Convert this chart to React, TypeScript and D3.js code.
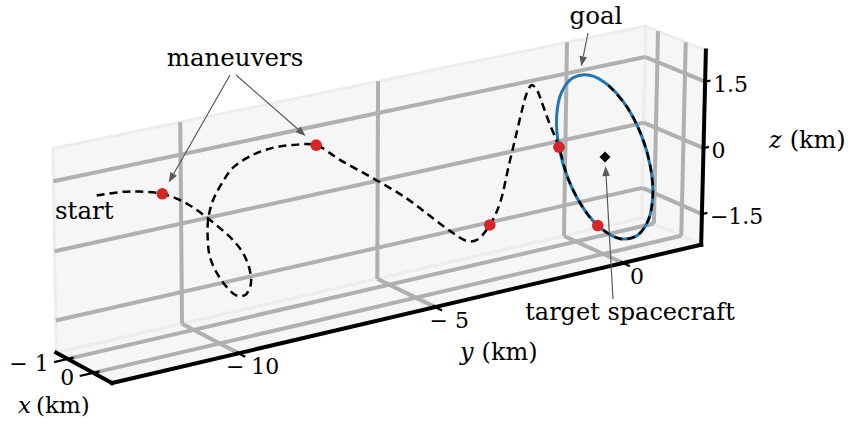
import React from 'react';
import * as d3 from 'd3';

const W = 852;
const H = 424;

// Axis limits (km)
const xLimits = [-1.45, 0.72];
const yLimits = [-13.1, 2.15];
const zLimits = [-2.2, 2.2];

// Ticks
const xTicks = [-1, 0];
const yTicks = [-10, -5, 0];
const zTicks = [-1.5, 0, 1.5];
const xTickLabels = ['− 1', '0'];
const yTickLabels = ['− 10', '− 5', '0'];
const zTickLabels = ['−1.5', '0', '1.5'];

// Chaser transfer trajectory (km)
const transferX = [
  0, 0, 0, 0, 0, 0, 0, 0, 0, 0,
  0, 0, 0, 0, 0, 0, 0, 0, 0, 0,
  0, 0, 0, 0, 0, 0, 0, 0, 0, 0,
  0, 0, 0, 0, 0, 0, 0, 0, 0, 0,
  0, 0, 0, 0, 0.23, 0.424, 0.535, 0.6, 0.554, 0.424,
  0.23, 0, -0.23, -0.424, -0.554,
];
const transferY = [
  -12.96, -12.33, -11.92, -11.38, -10.88, -10.55, -10.3, -9.98, -9.66, -9.41,
  -9.24, -9.22, -9.36, -9.57, -9.82, -10.06, -10.23, -10.28, -10.26, -10.14,
  -9.92, -9.65, -9.15, -8.66, -8.16, -7.57, -6.97, -6.12, -5.26, -4.56,
  -4.03, -3.68, -3.41, -3.07, -2.81, -2.58, -2.4, -2.25, -2.13, -2.0,
  -1.86, -1.75, -1.55, -1.25, -1.155, -0.884, -0.567, 0, 0.478, 0.884,
  1.155, 1.25, 1.155, 0.884, 0.478,
];
const transferZ = [
  1.57, 1.53, 1.46, 1.31, 1.05, 0.81, 0.6, 0.31, -0.01, -0.34,
  -0.75, -1.08, -1.27, -1.24, -1.0, -0.65, -0.26, 0.18, 0.57, 0.94,
  1.26, 1.54, 1.73, 1.79, 1.76, 1.65, 1.22, 0.66, 0.06, -0.52,
  -0.95, -1.19, -1.22, -0.95, -0.52, 0.3, 0.93, 1.46, 1.81, 1.97,
  1.83, 1.59, 1.11, 0.45, -0.227, -0.87, -1.293, -1.681, -1.725, -1.507,
  -1.059, -0.45, 0.227, 0.87, 1.381,
];

// Goal relative orbit around the target (km)
const goalX = [0.6, 0.554, 0.424, 0.23, 0, -0.23, -0.424, -0.554, -0.6, -0.554, -0.424, -0.23, 0, 0.23, 0.424, 0.554];
const goalY = [0, 0.478, 0.884, 1.155, 1.25, 1.155, 0.884, 0.478, 0, -0.478, -0.884, -1.155, -1.25, -1.155, -0.884, -0.478];
const goalZ = [-1.681, -1.725, -1.507, -1.059, -0.45, 0.227, 0.87, 1.381, 1.681, 1.725, 1.507, 1.059, 0.45, -0.227, -0.87, -1.381];

// Impulsive maneuvers (km)
const maneuverX = [0, 0, 0, 0, 0.535];
const maneuverY = [-11.38, -7.57, -3.07, -1.25, -0.567];
const maneuverZ = [1.31, 1.65, -0.95, 0.45, -1.293];

// Target spacecraft at the origin
const targetPos = [0, 0, 0];
// Point on the goal orbit referenced by the "goal" note
const goalNotePoint = [-0.58, -0.3, 1.72];

type P3 = number[];

// Perspective view of the 3D box: screen = origin + M·p / (1 + d·p)
const view = {
  origin: [605, 157],
  ex: [27.5, 12],
  ey: [36.86, -8.16],
  ez: [0.8, -44.35],
  depth: [-0.006, 0.0045, -0.0028],
};

function project(p: P3): [number, number] {
  const [x, y, z] = p;
  const w = 1 + view.depth[0] * x + view.depth[1] * y + view.depth[2] * z;
  return [
    view.origin[0] + (view.ex[0] * x + view.ey[0] * y + view.ez[0] * z) / w,
    view.origin[1] + (view.ex[1] * x + view.ey[1] * y + view.ez[1] * z) / w,
  ];
}

const zip3 = (xs: number[], ys: number[], zs: number[]): P3[] => ys.map((y, i) => [xs[i], y, zs[i]]);

const [x0, x1] = xLimits;
const [y0, y1] = yLimits;
const [z0, z1] = zLimits;

const polyPath = (pts: P3[]) => 'M' + pts.map((p) => project(p).join(',')).join('L') + 'Z';
const segPath = (a: P3, b: P3) => `M${project(a).join(',')}L${project(b).join(',')}`;

const textStyle: React.CSSProperties = {
  fontFamily: "'DejaVu Serif', 'Liberation Serif', serif",
};

function Arrow({ tail, point, shrink }: { tail: [number, number]; point: P3; shrink: number }) {
  const [px, py] = project(point);
  const dx = tail[0] - px;
  const dy = tail[1] - py;
  const len = Math.hypot(dx, dy);
  const ux = dx / len;
  const uy = dy / len;
  const tip: [number, number] = [px + ux * shrink, py + uy * shrink];
  const headLen = 10;
  const headW = 3.8;
  const base: [number, number] = [tip[0] + ux * headLen, tip[1] + uy * headLen];
  const nx = -uy;
  const ny = ux;
  const head = `M${tip[0]},${tip[1]}L${base[0] + nx * headW},${base[1] + ny * headW}L${base[0] - nx * headW},${base[1] - ny * headW}Z`;
  return (
    <g>
      <line x1={tail[0]} y1={tail[1]} x2={base[0]} y2={base[1]} stroke="#5a5a5a" strokeWidth={1.2} />
      <path d={head} fill="#5a5a5a" />
    </g>
  );
}

export default function App() {
  const transfer = zip3(transferX, transferY, transferZ);
  const goal = zip3(goalX, goalY, goalZ);
  const maneuvers = zip3(maneuverX, maneuverY, maneuverZ);

  const lineOpen = d3
    .line<P3>()
    .x((p) => project(p)[0])
    .y((p) => project(p)[1])
    .curve(d3.curveCatmullRom.alpha(0.5));
  const lineClosed = d3
    .line<P3>()
    .x((p) => project(p)[0])
    .y((p) => project(p)[1])
    .curve(d3.curveCatmullRomClosed.alpha(0.5));

  // Panes: back wall (x = min), floor (z = min), side wall (y = max)
  const panes = [
    [[x0, y0, z0], [x0, y1, z0], [x0, y1, z1], [x0, y0, z1]],
    [[x0, y0, z0], [x1, y0, z0], [x1, y1, z0], [x0, y1, z0]],
    [[x0, y1, z0], [x1, y1, z0], [x1, y1, z1], [x0, y1, z1]],
  ];

  const grid: [P3, P3][] = [];
  yTicks.forEach((y) => {
    grid.push([[x0, y, z0], [x0, y, z1]]);
    grid.push([[x0, y, z0], [x1, y, z0]]);
  });
  zTicks.forEach((z) => {
    grid.push([[x0, y0, z], [x0, y1, z]]);
    grid.push([[x0, y1, z], [x1, y1, z]]);
  });
  xTicks.forEach((x) => {
    grid.push([[x, y0, z0], [x, y1, z0]]);
    grid.push([[x, y1, z0], [x, y1, z1]]);
  });

  const target = project(targetPos);
  const td = 5.5;

  return (
    <svg width={W} height={H} style={{ position: 'absolute', left: 0, top: 0, background: '#fff' }}>
      {panes.map((p, i) => (
        <path key={i} d={polyPath(p)} fill="#f6f6f6" stroke="#ededed" strokeWidth={3} strokeLinejoin="round" />
      ))}
      {grid.map(([a, b], i) => (
        <path key={i} d={segPath(a, b)} stroke="#b0b0b0" strokeWidth={4} fill="none" />
      ))}

      {/* axis lines */}
      <path d={segPath([x0, y0, z0], [x1, y0, z0])} stroke="#000" strokeWidth={4} fill="none" strokeLinecap="square" />
      <path d={segPath([x1, y0, z0], [x1, y1, z0])} stroke="#000" strokeWidth={4} fill="none" strokeLinecap="square" />
      <path d={segPath([x1, y1, z0], [x1, y1, z1])} stroke="#000" strokeWidth={4} fill="none" strokeLinecap="square" />

      {/* ticks */}
      {xTicks.map((x, i) => (
        <path key={'xt' + i} d={segPath([x, y0 + 0.15, z0], [x, y0 - 0.33, z0])} stroke="#000" strokeWidth={2.2} />
      ))}
      {yTicks.map((y, i) => (
        <path key={'yt' + i} d={segPath([x1 - 0.1, y, z0], [x1 + 0.25, y, z0])} stroke="#000" strokeWidth={2.2} />
      ))}
      {zTicks.map((z, i) => (
        <path key={'zt' + i} d={segPath([x1, y1 - 0.05, z], [x1, y1 + 0.15, z])} stroke="#000" strokeWidth={2.2} />
      ))}

      <g style={textStyle} fill="#000">
        {/* tick labels */}
        {xTicks.map((x, i) => {
          const [px, py] = project([x, y0, z0]);
          return (
            <text key={'xl' + i} x={px - 19} y={py + 12.5} fontSize={22} textAnchor="end">
              {xTickLabels[i]}
            </text>
          );
        })}
        {yTicks.map((y, i) => {
          const [px, py] = project([x1, y, z0]);
          return (
            <text key={'yl' + i} x={px + 14} y={py + 21} fontSize={22} textAnchor="middle">
              {yTickLabels[i]}
            </text>
          );
        })}
        {zTicks.map((z, i) => {
          const [px, py] = project([x1, y1, z]);
          return (
            <text key={'zl' + i} x={px + 8} y={py + 10} fontSize={22} textAnchor="start">
              {zTickLabels[i]}
            </text>
          );
        })}

        {/* axis labels */}
        <text x={18} y={413} fontSize={23}>
          <tspan fontStyle="italic">x</tspan>
          <tspan dx={5}>(km)</tspan>
        </text>
        <text x={460} y={360} fontSize={24}>
          <tspan fontStyle="italic">y</tspan>
          <tspan dx={8}>(km)</tspan>
        </text>
        <text x={769} y={148} fontSize={24}>
          <tspan fontStyle="italic">z</tspan>
          <tspan dx={8}>(km)</tspan>
        </text>

        {/* note labels */}
        <text x={235} y={66} fontSize={24.5} textAnchor="middle">maneuvers</text>
        <text x={55} y={219} fontSize={24.5}>start</text>
        <text x={596} y={24} fontSize={24.5} textAnchor="middle">goal</text>
        <text x={630} y={320} fontSize={24} textAnchor="middle">target spacecraft</text>
      </g>

      {/* goal orbit and trajectory */}
      <path d={lineClosed(goal) || ''} fill="none" stroke="#1f77b4" strokeWidth={3} />
      <path d={lineOpen(transfer) || ''} fill="none" stroke="#000" strokeWidth={2.5} strokeDasharray="8 5" />
      {maneuvers.map((m, i) => {
        const [px, py] = project(m);
        return <circle key={'m' + i} cx={px} cy={py} r={5.8} fill="#d62728" />;
      })}
      <path
        d={`M${target[0]},${target[1] - td}L${target[0] + td},${target[1]}L${target[0]},${target[1] + td}L${target[0] - td},${target[1]}Z`}
        fill="#000"
      />

      {/* notes */}
      <Arrow tail={[230, 75]} point={maneuvers[0]} shrink={13} />
      <Arrow tail={[236, 75]} point={maneuvers[1]} shrink={14} />
      <Arrow tail={[588, 33]} point={goalNotePoint} shrink={10} />
      <Arrow tail={[613, 299]} point={targetPos} shrink={9} />
    </svg>
  );
}
